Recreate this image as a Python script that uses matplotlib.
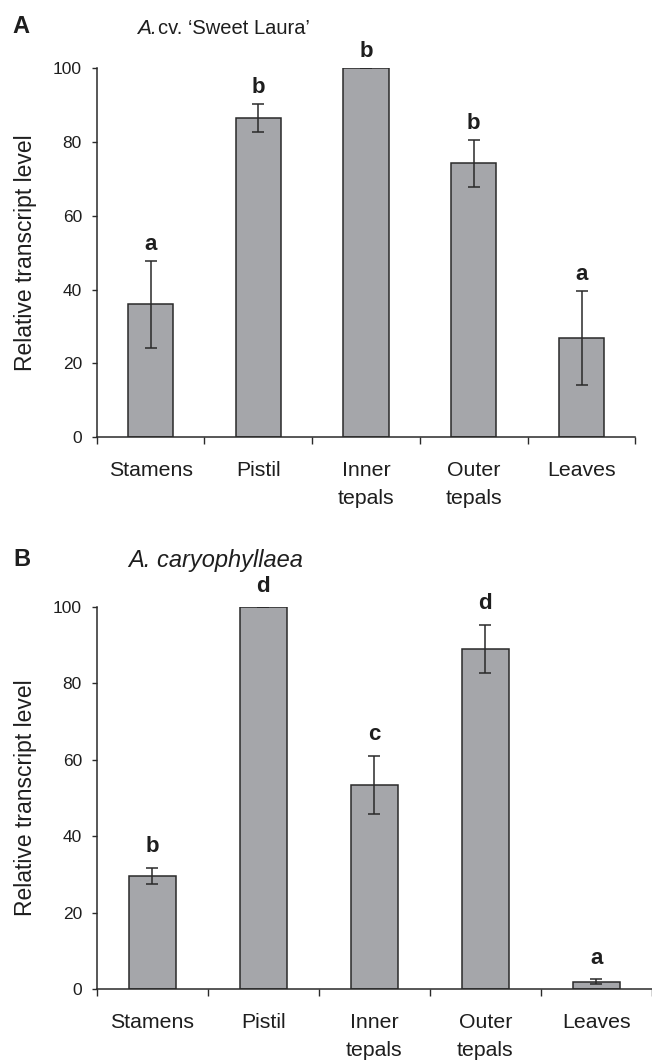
import matplotlib
matplotlib.use("Agg")
import matplotlib.pyplot as plt
import numpy as np

plt.rcParams['font.family'] = ['Liberation Sans', 'DejaVu Sans']

categories = ["Stamens", "Pistil", "Inner\ntepals", "Outer\ntepals", "Leaves"]

a_values = [36.0, 86.4, 100.0, 74.2, 26.9]
a_errors = [11.7, 3.8, 0.0, 6.4, 12.7]
a_letters = ["a", "b", "b", "b", "a"]

b_values = [29.6, 100.0, 53.5, 89.0, 1.9]
b_errors = [2.2, 0.0, 7.6, 6.4, 0.6]
b_letters = ["b", "d", "c", "d", "a"]

yticks = [0, 20, 40, 60, 80, 100]

W, H = 652, 1061
fig = plt.figure(figsize=(W / 100, H / 100), dpi=100)

BAR = '#a5a6aa'
EDGE = '#2a2a2a'
TXT = '#1e1e1e'


def make_panel(rect, values, errors, letters, letter_off, ylab_x):
    ax = fig.add_axes(rect)
    x = np.arange(len(categories))
    ax.bar(x, values, width=0.42, color=BAR, edgecolor=EDGE, linewidth=1.1, zorder=2)
    ax.errorbar(x, values, yerr=errors, fmt='none', ecolor=EDGE, elinewidth=1.1,
                capsize=4, capthick=1.1, zorder=3)
    for xi, v, e, l in zip(x, values, errors, letters):
        ax.annotate(l, (xi, v + e), xytext=(0, letter_off), textcoords='offset points',
                    ha='center', va='baseline', fontsize=16, fontweight='bold',
                    color=TXT, annotation_clip=False)
    ax.set_xlim(-0.5, len(categories) - 0.5)
    ax.set_ylim(0, 100)
    ax.set_yticks(yticks)
    ax.set_yticklabels([str(t) for t in yticks], fontsize=12.5, color=TXT)
    ax.set_xticks(x)
    ax.set_xticklabels(categories, fontsize=15.3, color=TXT, linespacing=1.6)
    ax.set_xticks(np.arange(len(categories) + 1) - 0.5, minor=True)
    ax.tick_params(axis='x', which='major', length=0, pad=17)
    ax.tick_params(axis='x', which='minor', length=5.3, width=1.0, color=EDGE, direction='out')
    ax.tick_params(axis='y', length=3.6, width=1.0, color=EDGE, pad=7, direction='out')
    for s in ['top', 'right']:
        ax.spines[s].set_visible(False)
    for s in ['left', 'bottom']:
        ax.spines[s].set_color(EDGE)
        ax.spines[s].set_linewidth(1.1)
    ax.set_ylabel("Relative transcript level", fontsize=16.5, color=TXT)
    ax.yaxis.set_label_coords(ylab_x, 0.5)
    ax.yaxis.label.set_va('center')
    return ax


axA = make_panel([96.7 / W, 1 - 437.3 / H, 538.7 / W, 369.3 / H],
                 a_values, a_errors, a_letters, 8, -0.133)
axB = make_panel([96.7 / W, 1 - 989 / H, 555.3 / W, 382 / H],
                 b_values, b_errors, b_letters, 11, -0.129)

# panel letters
fig.text(12.5 / W, 1 - 33.3 / H, "A", fontsize=17, fontweight='bold', color=TXT, va='baseline')
fig.text(13.5 / W, 1 - 566.5 / H, "B", fontsize=17, fontweight='bold', color=TXT, va='baseline')

# titles
t1 = fig.text(137 / W, 1 - 34.3 / H, "A.", fontsize=15, fontstyle='italic', color=TXT, va='baseline')
fig.canvas.draw()
bb = t1.get_window_extent(fig.canvas.get_renderer())
fig.text((bb.x1 + 1.5) / W, 1 - 34.3 / H, "cv. \u2018Sweet Laura\u2019", fontsize=14.5, color=TXT, va='baseline')
fig.text(128 / W, 1 - 566.7 / H, "A. caryophyllaea", fontsize=17, fontstyle='italic', color=TXT, va='baseline')

fig.savefig("out.png", dpi=100, facecolor='white')
